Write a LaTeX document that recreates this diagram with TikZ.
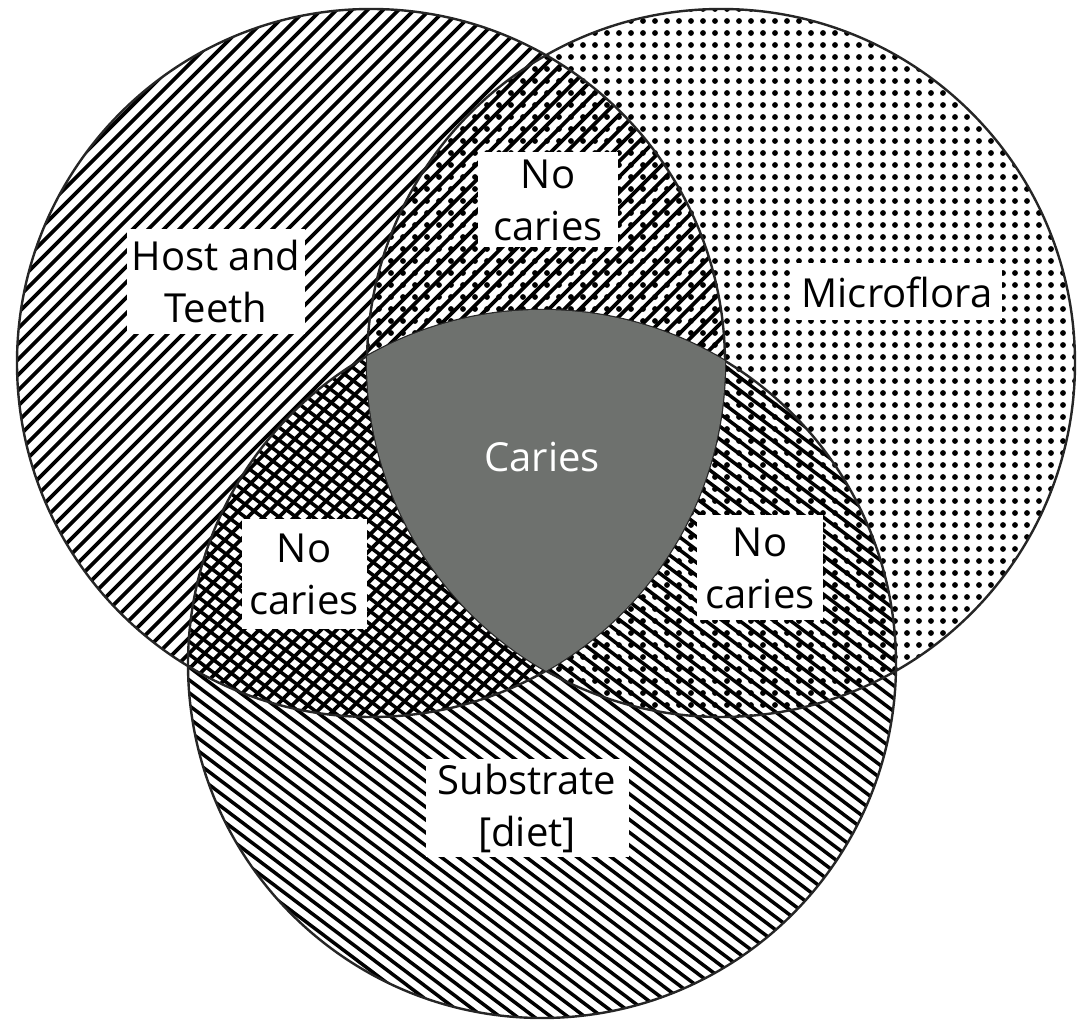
\documentclass[tikz,border=0pt]{standalone}
\usepackage{fontspec}
\setmainfont{Open Sans}
\definecolor{cariesgray}{RGB}{110,113,110}
\begin{document}
\begin{tikzpicture}[x=1pt,y=1pt]
\useasboundingbox (0,0) rectangle (1081,1025);
\def\R{354}
\coordinate (A) at (371,662);
\coordinate (B) at (721,662);
\coordinate (C) at (542,361);
\tikzset{
  hatchline/.style={line width=3.7pt, black},
  outline/.style={line width=2.4pt, black!85},
  lbox/.style={fill=white, inner sep=0pt, align=center, text=black,
    font=\fontsize{40}{52}\selectfont},
}
% Host and Teeth: "/" lines
\begin{scope}
  \clip (A) circle (\R);
  \draw[hatchline] \foreach \k in {-50,...,50} {(371+\k*15.5-600,62) -- ++(1200,1200)};
\end{scope}
% Substrate: "\" lines
\begin{scope}
  \clip (C) circle (\R);
  \draw[hatchline, line width=3.5pt] \foreach \k in {-70,...,70} {(542+\k*17-719,903) -- ++(1438,-1084)};
\end{scope}
% Microflora: dots
\begin{scope}
  \clip (B) circle (\R);
  \fill[black] \foreach \i in {0,...,60} {\foreach \j in {0,...,60} {(367+\i*12,308+\j*12) circle (2.9)}};
\end{scope}
% outlines
\draw[outline] (A) circle (\R);
\draw[outline] (B) circle (\R);
\draw[outline] (C) circle (\R);
% centre: caries
\begin{scope}
  \clip (A) circle (\R);
  \clip (B) circle (\R);
  \fill[cariesgray] (C) circle (\R);
\end{scope}
% labels
\node[lbox, minimum width=178, minimum height=105] (host) at (216,743) {Host and\\Teeth};
\node[lbox, minimum width=140, minimum height=95] (nctop) at (548,825) {No\\caries};
\node[lbox, minimum width=209, minimum height=57] (micro) at (897,733) {Microflora};
\node[lbox, minimum width=125, minimum height=110] (ncleft) at (304,451) {No\\caries};
\node[lbox, minimum width=126, minimum height=105] (ncright) at (760,457) {No\\caries};
\node[lbox, minimum width=203, minimum height=98] (sub) at (527,217) {Substrate\\{[}diet{]}};
\node[font=\fontsize{40}{48}\selectfont, text=white] (caries) at (542,568) {Caries};
\end{tikzpicture}
\end{document}
